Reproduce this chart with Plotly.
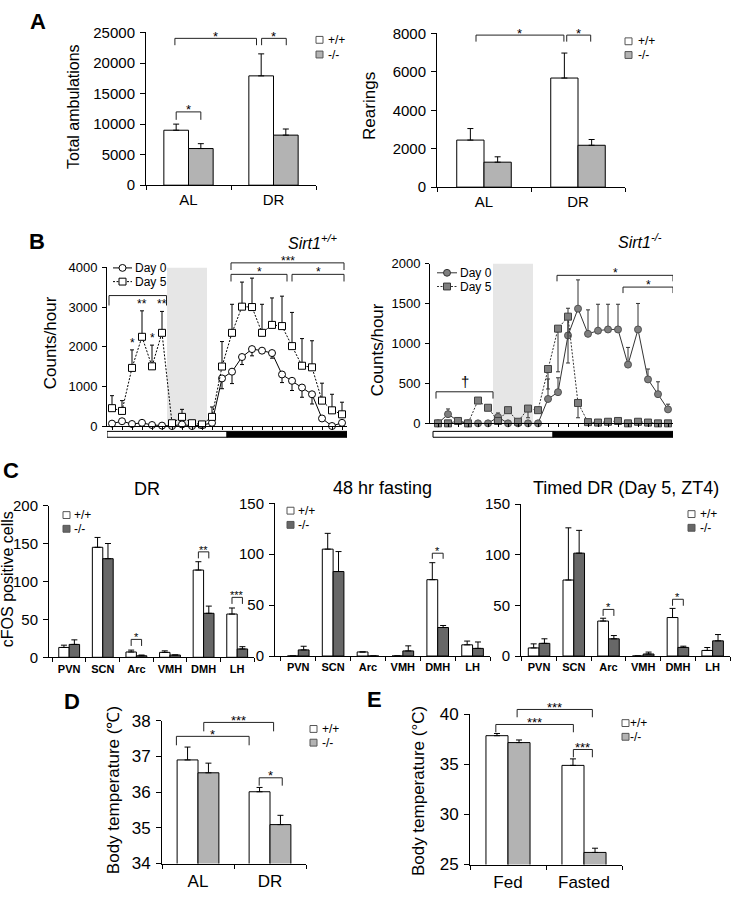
import plotly.graph_objects as go

W, H = 731, 899
FONT = "Liberation Sans, Arial, Helvetica, sans-serif"

# ---------------- Panel A ----------------
groups_A = ["AL", "DR"]
amb_wt = [9000, 17900]
amb_wt_sem = [1000, 3600]
amb_ko = [6000, 8200]
amb_ko_sem = [800, 1000]
rear_wt = [2450, 5680]
rear_wt_sem = [600, 1300]
rear_ko = [1300, 2180]
rear_ko_sem = [280, 300]

# ---------------- Panel B (24 hourly bins) ----------------
hours = list(range(24))
wt_day0 = [60, 120, 50, 80, 25, 10, 0, 40, 0, 20, 80, 1200, 1370, 1740, 1940, 1900, 1840, 1300, 1140, 970, 800, 190, 0, 80]
wt_day0_sem = [0, 0, 0, 0, 0, 0, 0, 0, 0, 0, 0, 260, 300, 190, 170, 60, 130, 205, 245, 245, 245, 0, 0, 0]
wt_day5 = [450, 380, 1465, 2250, 1505, 2350, 70, 230, 70, 40, 230, 1500, 2350, 3010, 3000, 2350, 2550, 2520, 2015, 1520, 1480, 640, 395, 295]
wt_day5_sem = [315, 260, 455, 655, 535, 540, 0, 190, 0, 0, 250, 630, 720, 620, 730, 720, 680, 755, 850, 685, 670, 440, 405, 305]
ko_day0 = [0, 115, 30, 0, 0, 0, 80, 0, 0, 0, 0, 305, 390, 1100, 1435, 1120, 1160, 1175, 1175, 735, 1175, 550, 365, 175]
ko_day0_sem = [0, 65, 0, 0, 0, 0, 50, 0, 0, 0, 0, 250, 180, 340, 360, 300, 330, 315, 315, 215, 325, 130, 155, 65]
ko_day5 = [0, 0, 30, 0, 285, 195, 30, 165, 20, 185, 165, 680, 1185, 1335, 255, 15, 10, 20, 30, 0, 20, 10, 0, 0]
ko_day5_sem = [0, 0, 0, 0, 0, 0, 0, 0, 0, 115, 0, 250, 540, 580, 185, 0, 0, 0, 0, 0, 0, 0, 0, 0]

# ---------------- Panel C ----------------
nuclei = ["PVN", "SCN", "Arc", "VMH", "DMH", "LH"]
dr_wt = [13, 145, 7, 6.5, 115, 57]
dr_wt_sem = [3, 13, 2.5, 2, 11, 8]
dr_ko = [17, 130, 2, 3, 58, 11]
dr_ko_sem = [6, 20, 1, 0, 9.5, 3]
fast_wt = [0, 105, 4, 0, 75, 11]
fast_wt_sem = [0, 15.5, 0, 0, 16.7, 3.7]
fast_ko = [6, 83, 0, 5, 28, 7.5]
fast_ko_sem = [3.6, 19.6, 0, 5, 2, 6.3]
timed_wt = [8, 75, 34.5, 0, 38, 5.5]
timed_wt_sem = [4, 51.5, 2.8, 0, 9, 2.9]
timed_ko = [12.5, 101.5, 17, 2, 8.5, 15]
timed_ko_sem = [4.5, 22.5, 3.2, 1.9, 1.2, 6.2]

# ---------------- Panels D / E ----------------
groups_D = ["AL", "DR"]
temp_wt = [36.90, 36.01]
temp_wt_sem = [0.36, 0.12]
temp_ko = [36.54, 35.09]
temp_ko_sem = [0.27, 0.26]
groups_E = ["Fed", "Fasted"]
ftemp_wt = [37.88, 34.91]
ftemp_wt_sem = [0.22, 0.65]
ftemp_ko = [37.19, 26.21]
ftemp_ko_sem = [0.26, 0.42]

LIGHT = "#b3b3b3"
DARK = "#676767"

fig = go.Figure()
layout = {}
shapes, annots = [], []
P = {}


def X(px):
    return px / W


def Y(py):
    return 1 - py / H


def axis_style(fs):
    return dict(showline=True, linecolor="black", linewidth=1, showgrid=False,
                zeroline=False, ticks="outside", tickcolor="black", tickwidth=1,
                ticklen=5, tickfont=dict(family=FONT, size=fs, color="black"),
                fixedrange=True)


def panel(name, n, xpx, ypx, xr, yr, dtick, yfs, xextra, ylen=5):
    s = "" if n == 1 else str(n)
    xref, yref = "x" + s, "y" + s
    ydom = [Y(ypx[1]), Y(ypx[0])]
    P[name] = dict(x=xref, y=yref, ydom=ydom, yr=yr)
    ya = axis_style(yfs)
    ya.update(domain=ydom, range=yr, tickmode="linear", tick0=yr[0], dtick=dtick,
              anchor=xref, ticklen=ylen, ticklabelstandoff=2, tickformat="d")
    xa = axis_style(yfs)
    xa.update(domain=[X(xpx[0]), X(xpx[1])], range=xr, anchor=yref)
    xa.update(xextra)
    layout["xaxis" + s] = xa
    layout["yaxis" + s] = ya


def cat_x(cats, fs, bold=False, standoff=2):
    n = len(cats)
    return dict(tickmode="array", tickvals=list(range(n)),
                ticktext=[("<b>%s</b>" % c) if bold else c for c in cats],
                ticklen=0, ticklabelstandoff=standoff,
                tickfont=dict(family=FONT, size=fs, color="black"),
                minor=dict(tickmode="array", tickvals=[i - 0.5 for i in range(n + 1)],
                           ticks="outside", ticklen=4, tickcolor="black", tickwidth=1,
                           showgrid=False))


def yp(name, v):
    p = P[name]
    r0, r1 = p["yr"]
    d0, d1 = p["ydom"]
    return d0 + (v - r0) / (r1 - r0) * (d1 - d0)


def bars(name, wt, wt_sem, ko, ko_sem, ko_color, w):
    p = P[name]
    n = len(wt)
    for vals, sem, color, off in [(wt, wt_sem, "white", -w / 2), (ko, ko_sem, ko_color, w / 2)]:
        fig.add_trace(go.Bar(
            x=[i + off for i in range(n)], y=vals, width=w,
            marker=dict(color=color, line=dict(color="black", width=1)),
            error_y=dict(type="data", symmetric=False, array=sem, arrayminus=[0] * n,
                         color="black", thickness=1, width=3),
            xaxis=p["x"], yaxis=p["y"], showlegend=False, hoverinfo="skip"))


def bracket(name, x0, x1, y, drop, label, fs=12, dy=2):
    p = P[name]
    top = yp(name, y)
    bot = yp(name, y - drop)
    for a, b, c, d in [(x0, bot, x0, top), (x0, top, x1, top), (x1, top, x1, bot)]:
        shapes.append(dict(type="line", xref=p["x"], yref="paper", x0=a, y0=b, x1=c, y1=d,
                           line=dict(color="#222", width=1)))
    if label:
        annots.append(dict(xref=p["x"], yref="paper", x=(x0 + x1) / 2, y=top, text=label,
                           showarrow=False, xanchor="center", yanchor="middle", yshift=dy,
                           borderpad=0, font=dict(family=FONT, size=fs, color="black")))


def text(px, py, s, fs, bold=False, anchor="center", angle=0):
    t = s
    if bold:
        t = "<b>%s</b>" % t
    annots.append(dict(xref="paper", yref="paper", x=X(px), y=Y(py), text=t, showarrow=False,
                       xanchor=anchor, yanchor="middle", textangle=angle, borderpad=0,
                       font=dict(family=FONT, size=fs, color="black")))


def legend_sq(x0, py, label, fill, tx, fs=12, size=7):
    shapes.append(dict(type="rect", xref="paper", yref="paper", x0=X(x0), x1=X(x0 + size),
                       y0=Y(py + size / 2), y1=Y(py - size / 2), fillcolor=fill,
                       line=dict(color="#555", width=1)))
    text(tx, py, label, fs, anchor="left")


def legend_line(x0, x1, py, symbol, fill, edge, dash, label, tx, fs=12):
    shapes.append(dict(type="line", xref="paper", yref="paper", x0=X(x0), x1=X(x1),
                       y0=Y(py), y1=Y(py), line=dict(color=edge, width=1, dash=dash)))
    cx = (x0 + x1) / 2
    r = 3.5
    shapes.append(dict(type=symbol, xref="paper", yref="paper", x0=X(cx - r), x1=X(cx + r),
                       y0=Y(py + r), y1=Y(py - r), fillcolor=fill,
                       line=dict(color=edge, width=1)))
    text(tx, py, label, fs, anchor="left")


# ======================= Panel A =======================
panel("A1", 1, (146, 316), (24, 180), [-0.5, 1.5], [0, 25000], 5000, 15, cat_x(groups_A, 15, standoff=1))
bars("A1", amb_wt, amb_wt_sem, amb_ko, amb_ko_sem, LIGHT, 0.29)
bracket("A1", -0.145, 0.145, 12000, 1300, "*", 13)
bracket("A1", -0.16, 0.80, 24040, 1120, "*", 13)
bracket("A1", 0.86, 1.15, 24040, 1120, "*", 13)
legend_sq(316, 31.5, "+/+", "white", 327, 12)
legend_sq(316, 46.5, "-/-", LIGHT, 327, 12)
text(73.5, 99.5, "Total ambulations", 16, angle=-90)

panel("A2", 2, (437, 625), (25, 182), [-0.5, 1.5], [0, 8000], 2000, 15, cat_x(groups_A, 15, standoff=1))
bars("A2", rear_wt, rear_wt_sem, rear_ko, rear_ko_sem, LIGHT, 0.29)
bracket("A2", -0.085, 0.85, 7915, 340, "*", 13)
bracket("A2", 0.88, 1.135, 7915, 340, "*", 13)
legend_sq(625, 33, "+/+", "white", 637, 12)
legend_sq(625, 47, "-/-", LIGHT, 637, 12)
text(370, 99, "Rearings", 17, angle=-90)

text(38, 12.5, "A", 22, bold=True)

# ======================= Panel B =======================
bx = dict(tickmode="array", tickvals=hours, ticklen=3, showticklabels=False)
panel("B1", 3, (107, 347), (264, 426), [-0.5, 23.5], [0, 4000], 1000, 13, bx, ylen=4)
panel("B2", 4, (430, 673), (260, 423.3), [-0.8, 23.5], [0, 2000], 500, 13, bx, ylen=4)

for name, top in [("B1", 4000), ("B2", 2000)]:
    p = P[name]
    shapes.append(dict(type="rect", xref=p["x"], yref=p["y"], x0=5.5, x1=9.5, y0=0, y1=top,
                       fillcolor="#e6e6e6", line=dict(width=0), layer="below"))
    shapes.append(dict(type="rect", xref=p["x"], yref="paper", x0=-0.5, x1=11.5,
                       y0=Y(437.5), y1=Y(431.5), fillcolor="white", line=dict(color="black", width=1)))
    shapes.append(dict(type="rect", xref=p["x"], yref="paper", x0=11.5, x1=23.5,
                       y0=Y(437.5), y1=Y(431.5), fillcolor="black", line=dict(color="black", width=1)))

p = P["B1"]
fig.add_trace(go.Scatter(
    x=hours, y=wt_day0, mode="lines+markers", cliponaxis=False,
    line=dict(color="black", width=1),
    marker=dict(symbol="circle", size=7, color="white", line=dict(color="black", width=1)),
    error_y=dict(type="data", symmetric=False, array=[0] * 24, arrayminus=wt_day0_sem,
                 color="black", thickness=1, width=2),
    xaxis=p["x"], yaxis=p["y"], showlegend=False, hoverinfo="skip"))
fig.add_trace(go.Scatter(
    x=hours, y=wt_day5, mode="lines+markers", cliponaxis=False,
    line=dict(color="black", width=1, dash="2px,1.5px"),
    marker=dict(symbol="square", size=7, color="white", line=dict(color="black", width=1)),
    error_y=dict(type="data", symmetric=False, array=wt_day5_sem, arrayminus=[0] * 24,
                 color="black", thickness=1, width=2),
    xaxis=p["x"], yaxis=p["y"], showlegend=False, hoverinfo="skip"))

p = P["B2"]
fig.add_trace(go.Scatter(
    x=hours, y=ko_day0, mode="lines+markers", cliponaxis=False,
    line=dict(color="#333", width=1),
    marker=dict(symbol="circle", size=7, color="#7f7f7f", line=dict(color="#505050", width=1)),
    error_y=dict(type="data", symmetric=False, array=ko_day0_sem, arrayminus=[0] * 24,
                 color="#333", thickness=1, width=2),
    xaxis=p["x"], yaxis=p["y"], showlegend=False, hoverinfo="skip"))
fig.add_trace(go.Scatter(
    x=hours, y=ko_day5, mode="lines+markers", cliponaxis=False,
    line=dict(color="#333", width=1, dash="2px,1.5px"),
    marker=dict(symbol="square", size=7, color="#7f7f7f", line=dict(color="#404040", width=1)),
    error_y=dict(type="data", symmetric=False, array=[0] * 24, arrayminus=ko_day5_sem,
                 color="#333", thickness=1, width=2),
    xaxis=p["x"], yaxis=p["y"], showlegend=False, hoverinfo="skip"))

bracket("B1", -0.3, 5.45, 3290, 250, "", 12)
bracket("B1", 11.9, 23.2, 4115, 180, "***", 12)
bracket("B1", 11.9, 17.5, 3825, 180, "*", 12)
bracket("B1", 18.0, 23.2, 3825, 180, "*", 12)
for i, s in [(2, "*"), (3, "**"), (4, "*"), (5, "**")]:
    annots.append(dict(xref=P["B1"]["x"], yref=P["B1"]["y"], x=i, y=wt_day5[i] + wt_day5_sem[i],
                       text=s, showarrow=False, yanchor="middle", yshift=7, borderpad=0,
                       font=dict(family=FONT, size=12, color="black")))

bracket("B2", -0.2, 5.5, 395, 85, "\u2020", 15, dy=10)
bracket("B2", 11.9, 23.5, 1852, 75, "*", 12)
bracket("B2", 18.5, 23.5, 1705, 75, "*", 12)

legend_line(113, 132, 264.5, "circle", "white", "black", "solid", "Day 0", 134)
legend_line(113, 132, 278.5, "rect", "white", "black", "2px,1.5px", "Day 5", 134)
legend_line(437, 457, 269.5, "circle", "#7f7f7f", "#333", "solid", "Day 0", 459)
legend_line(437, 457, 283.5, "rect", "#7f7f7f", "#333", "2px,1.5px", "Day 5", 459)

text(50, 341.5, "Counts/hour", 17, angle=-90)
text(377, 348.5, "Counts/hour", 17, angle=-90)
text(287, 238, "<i>Sirt1<sup>+/+</sup></i>", 16, anchor="left")
text(617, 237, "<i>Sirt1<sup>-/-</sup></i>", 16, anchor="left")
text(37, 238, "B", 22, bold=True)

# ======================= Panel C =======================
panel("C1", 5, (49, 254), (507.3, 662.3), [-0.6, 5.5], [0, 200], 50, 15, cat_x(nuclei, 11, bold=True, standoff=1))
panel("C2", 6, (275, 490), (505, 661), [-0.667, 5.5], [0, 150], 50, 15, cat_x(nuclei, 11, bold=True, standoff=1))
panel("C3", 7, (521, 730), (505.7, 661), [-0.52, 5.5], [0, 150], 50, 15, cat_x(nuclei, 11, bold=True, standoff=1))
bars("C1", dr_wt, dr_wt_sem, dr_ko, dr_ko_sem, DARK, 0.31)
bars("C2", fast_wt, fast_wt_sem, fast_ko, fast_ko_sem, DARK, 0.31)
bars("C3", timed_wt, timed_wt_sem, timed_ko, timed_ko_sem, DARK, 0.31)
bracket("C1", 1.845, 2.155, 23.6, 8.6, "*", 11)
bracket("C1", 3.845, 4.155, 139, 8.6, "**", 11)
bracket("C1", 4.845, 5.155, 79, 8.6, "***", 11)
bracket("C2", 3.845, 4.155, 101, 5.5, "*", 11)
bracket("C3", 1.845, 2.155, 46, 6.4, "*", 11)
bracket("C3", 3.845, 4.155, 56, 6.4, "*", 11)
legend_sq(63, 517, "+/+", "white", 73, 12)
legend_sq(63, 531, "-/-", DARK, 73, 12)
legend_sq(287, 512.5, "+/+", "white", 297, 12)
legend_sq(287, 527, "-/-", DARK, 297, 12)
legend_sq(688, 516, "+/+", "white", 699, 12)
legend_sq(688, 530, "-/-", DARK, 699, 12)
text(147, 490, "DR", 18)
text(383, 489, "48 hr fasting", 18)
text(626, 489, "Timed DR (Day 5, ZT4)", 18)
text(7, 582.5, "cFOS positive cells", 16, angle=-90)
text(11, 471.5, "C", 22, bold=True)

# ======================= Panel D =======================
panel("D", 8, (162, 306), (727, 873), [-0.5, 1.5], [34, 38], 1, 17, cat_x(groups_D, 17, standoff=2))
bars("D", temp_wt, temp_wt_sem, temp_ko, temp_ko_sem, LIGHT, 0.29)
bracket("D", 0.08, 1.05, 37.95, 0.25, "***", 13)
bracket("D", -0.3, 0.71, 37.56, 0.25, "*", 13)
bracket("D", 0.85, 1.17, 36.4, 0.22, "*", 13)
legend_sq(310, 735.5, "+/+", "white", 321, 12)
legend_sq(310, 749.5, "-/-", LIGHT, 321, 12)
text(113, 798, "Body temperature (\u2103)", 17, angle=-90)
text(72, 707, "D", 22, bold=True)

# ======================= Panel E =======================
panel("E", 9, (470, 622), (720.7, 874), [-0.5, 1.5], [25, 40], 5, 17, cat_x(groups_E, 17, standoff=2))
bars("E", ftemp_wt, ftemp_wt_sem, ftemp_ko, ftemp_ko_sem, LIGHT, 0.29)
bracket("E", 0.12, 1.11, 40.5, 0.78, "***", 13)
bracket("E", -0.16, 0.86, 39.0, 0.78, "***", 13)
bracket("E", 0.86, 1.11, 36.5, 0.78, "***", 13)
legend_sq(622, 729.5, "+/+", "white", 629, 12)
legend_sq(622, 743.5, "-/-", LIGHT, 629, 12)
text(418, 799, "Body temperature (\u00b0C)", 17, angle=-90)
text(375, 705, "E", 22, bold=True)

fig.update_layout(width=W, height=H, margin=dict(l=0, r=0, t=0, b=0),
                  paper_bgcolor="white", plot_bgcolor="white", barmode="overlay",
                  showlegend=False, shapes=shapes, annotations=annots,
                  font=dict(family=FONT, color="black"), **layout)
fig.write_html("out.html", config={"displayModeBar": False},
               post_script="document.body.style.margin='0px';")
